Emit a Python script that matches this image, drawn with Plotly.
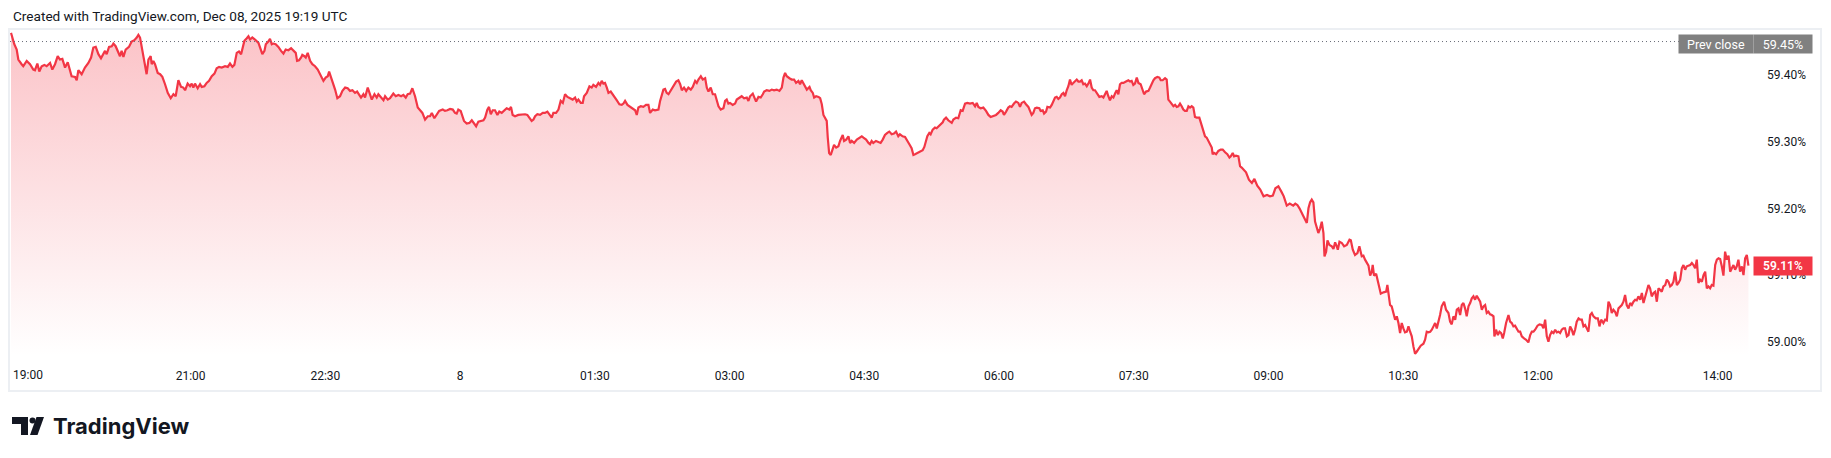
import pandas as pd
import plotly.graph_objects as go

# ---------------- data ----------------
START = "2025-12-07 19:00"          # first bar of the session
PREV_CLOSE = 59.45                  # "Prev close" level, %
LAST_PCT = 59.114                   # last traded level, %

# minutes after START / level in %
minutes_a = [0.0, 2.2, 3.8, 4.9, 7.1, 8.2, 10.5, 12.7, 14.9, 16.0,
             17.6, 18.9, 20.5, 22.3, 23.8, 26.1, 27.6, 29.4, 31.2, 32.7,
             34.3, 36.1, 37.9, 39.4, 40.5, 42.8, 43.9, 45.0, 47.2, 49.4,
             51.7, 53.5, 55.0, 56.6, 58.4, 60.1, 61.7, 62.8, 63.9, 65.5,
             67.3, 68.4, 69.9, 71.7, 72.8, 73.9, 75.1, 76.6, 78.8, 80.6,
             82.4, 84.0, 85.1, 86.2, 87.3, 89.1, 90.6, 91.8, 93.3, 94.0,
             95.1, 96.2, 98.0, 99.6, 101.1, 102.9, 104.7, 106.7, 108.5, 110.0,
             111.8, 113.6, 115.1, 116.3, 118.0, 119.6, 120.7, 121.8, 122.9, 124.7,
             126.3, 127.4, 129.2, 130.7, 132.3, 134.1, 135.9, 137.4, 139.0, 140.8,
             143.0, 144.8, 146.3, 147.9, 149.2, 150.8, 152.3, 153.7, 154.6, 155.9,
             157.5, 158.6, 159.7, 161.2, 163.0, 165.3, 166.4, 167.9, 169.3, 170.2,
             171.9, 173.0, 174.2, 175.3, 176.8, 178.6, 180.4, 182.0, 183.5, 185.3,
             187.1, 188.6, 190.2, 191.1, 192.4, 193.8, 194.6, 196.0, 196.9, 198.2,
             199.8, 201.3, 203.1, 204.9, 206.5, 208.7, 210.2, 211.6, 212.5, 213.8,
             215.4, 216.5, 218.0, 219.8, 221.4, 223.2, 224.9, 226.5, 228.1, 229.8,
             231.2, 232.5, 233.8, 235.4, 236.5, 238.3, 239.9, 241.0, 242.8, 244.3,
             245.4, 247.2, 248.8, 249.9, 251.7, 253.2, 254.3, 255.4, 257.0, 258.8,
             260.6, 262.1, 263.7, 265.0, 266.6, 268.1, 269.9, 271.7, 273.3, 274.8,
             276.6, 278.4, 279.9, 281.1, 282.8, 284.4, 286.0]
pct_a = [59.463, 59.446, 59.438, 59.423, 59.416, 59.413, 59.421, 59.416, 59.408, 59.407,
         59.417, 59.405, 59.413, 59.415, 59.413, 59.418, 59.408, 59.416, 59.428, 59.423,
         59.424, 59.411, 59.419, 59.408, 59.398, 59.397, 59.392, 59.407, 59.401, 59.411,
         59.418, 59.426, 59.441, 59.442, 59.431, 59.425, 59.431, 59.436, 59.431, 59.442,
         59.443, 59.447, 59.443, 59.433, 59.428, 59.436, 59.427, 59.438, 59.442, 59.450,
         59.452, 59.456, 59.460, 59.456, 59.443, 59.421, 59.401, 59.423, 59.428, 59.416,
         59.421, 59.416, 59.403, 59.401, 59.397, 59.386, 59.373, 59.365, 59.371, 59.368,
         59.392, 59.382, 59.381, 59.377, 59.387, 59.383, 59.387, 59.381, 59.387, 59.380,
         59.386, 59.382, 59.383, 59.388, 59.391, 59.398, 59.402, 59.410, 59.412, 59.411,
         59.413, 59.412, 59.417, 59.412, 59.415, 59.433, 59.435, 59.431, 59.438, 59.451,
         59.455, 59.458, 59.453, 59.456, 59.453, 59.448, 59.441, 59.431, 59.436, 59.446,
         59.450, 59.454, 59.446, 59.447, 59.446, 59.442, 59.436, 59.432, 59.438, 59.437,
         59.440, 59.436, 59.433, 59.421, 59.422, 59.426, 59.430, 59.428, 59.426, 59.433,
         59.421, 59.416, 59.413, 59.408, 59.401, 59.391, 59.396, 59.398, 59.405, 59.397,
         59.386, 59.378, 59.365, 59.368, 59.376, 59.381, 59.380, 59.376, 59.377, 59.373,
         59.375, 59.371, 59.366, 59.371, 59.366, 59.381, 59.371, 59.363, 59.371, 59.366,
         59.371, 59.366, 59.362, 59.368, 59.363, 59.365, 59.368, 59.372, 59.368, 59.370,
         59.368, 59.370, 59.366, 59.371, 59.372, 59.380, 59.368, 59.351, 59.347, 59.343,
         59.333, 59.338, 59.338, 59.343, 59.335, 59.340, 59.346]

minutes_b = [288.4, 289.9, 291.5, 293.3, 295.1, 296.6, 297.7, 298.8, 300.4, 301.7,
             302.6, 304.4, 306.2, 307.8, 309.3, 310.7, 312.2, 313.8, 315.6, 316.7,
             318.2, 319.3, 320.5, 321.8, 323.3, 324.9, 326.2, 327.8, 329.4, 331.1,
             332.9, 334.0, 335.1, 336.7, 338.9, 341.2, 343.4, 344.9, 346.3, 347.8,
             349.0, 350.1, 351.6, 353.4, 355.2, 356.7, 358.3, 359.6, 361.2, 362.3,
             364.1, 365.7, 367.2, 368.6, 370.1, 371.7, 373.5, 375.2, 376.8, 377.9,
             379.0, 380.6, 381.9, 382.8, 384.6, 386.4, 387.9, 389.0, 390.8, 392.4,
             393.5, 394.6, 395.7, 396.8, 398.0, 399.1, 400.6, 402.0, 403.5, 404.6,
             406.4, 408.0, 409.1, 410.2, 411.8, 413.5, 415.3, 416.9, 418.0, 419.1,
             420.7, 422.4, 424.2, 425.8, 426.9, 428.7, 430.2, 432.5, 433.6, 434.7,
             435.8, 436.9, 438.0, 439.2, 440.7, 442.5, 444.3, 445.8, 447.0, 448.1,
             449.6, 451.0, 452.5, 454.1, 455.4, 457.0, 458.1, 459.2, 460.8, 462.1,
             463.7, 464.8, 465.9, 467.4, 468.8, 470.3, 471.4, 472.6, 474.1, 475.9,
             477.0, 478.1, 479.2, 480.3, 482.1, 483.7, 484.8, 486.6, 488.1, 489.7,
             491.5, 492.6, 493.7, 495.5, 496.4, 497.7, 499.3, 500.8, 502.2, 503.1,
             504.8, 506.6, 508.2, 509.7, 511.5, 513.3, 514.9, 516.0, 517.1, 518.2,
             520.0, 521.5, 523.1, 524.4, 526.0, 527.1, 528.2, 529.3, 530.5, 531.6,
             533.4, 534.2, 535.6, 536.5, 537.8, 539.4, 540.5, 541.6, 542.7, 543.8,
             544.9, 545.6, 546.5, 547.6, 549.0, 549.8, 551.2, 552.7, 553.8, 555.0,
             555.6, 556.5, 557.9, 559.4, 560.5, 561.6, 563.2, 565.0, 566.8, 568.3,
             569.4, 571.2, 572.8]
pct_b = [59.348, 59.346, 59.347, 59.349, 59.348, 59.343, 59.342, 59.348, 59.346, 59.338,
         59.331, 59.327, 59.328, 59.332, 59.328, 59.323, 59.330, 59.331, 59.332, 59.336,
         59.348, 59.352, 59.341, 59.347, 59.347, 59.340, 59.345, 59.343, 59.347, 59.350,
         59.348, 59.352, 59.340, 59.338, 59.340, 59.341, 59.341, 59.340, 59.336, 59.331,
         59.333, 59.338, 59.341, 59.340, 59.343, 59.343, 59.345, 59.341, 59.336, 59.343,
         59.343, 59.348, 59.361, 59.358, 59.371, 59.367, 59.365, 59.363, 59.366, 59.360,
         59.363, 59.358, 59.358, 59.368, 59.373, 59.383, 59.381, 59.385, 59.382, 59.388,
         59.385, 59.391, 59.387, 59.388, 59.381, 59.373, 59.375, 59.371, 59.366, 59.362,
         59.356, 59.355, 59.357, 59.361, 59.355, 59.352, 59.350, 59.347, 59.340, 59.351,
         59.353, 59.352, 59.355, 59.355, 59.343, 59.348, 59.347, 59.348, 59.361, 59.371,
         59.378, 59.379, 59.373, 59.371, 59.376, 59.383, 59.390, 59.392, 59.386, 59.377,
         59.381, 59.376, 59.381, 59.378, 59.382, 59.391, 59.388, 59.393, 59.398, 59.393,
         59.395, 59.381, 59.375, 59.381, 59.371, 59.371, 59.363, 59.353, 59.348, 59.350,
         59.361, 59.363, 59.357, 59.358, 59.355, 59.357, 59.363, 59.366, 59.368, 59.365,
         59.366, 59.361, 59.368, 59.372, 59.366, 59.360, 59.367, 59.366, 59.371, 59.375,
         59.377, 59.376, 59.378, 59.377, 59.378, 59.376, 59.381, 59.396, 59.403, 59.398,
         59.395, 59.393, 59.393, 59.388, 59.391, 59.386, 59.392, 59.387, 59.382, 59.378,
         59.382, 59.377, 59.373, 59.366, 59.368, 59.367, 59.365, 59.356, 59.340, 59.336,
         59.331, 59.306, 59.283, 59.280, 59.288, 59.295, 59.291, 59.293, 59.301, 59.308,
         59.310, 59.301, 59.303, 59.308, 59.298, 59.301, 59.298, 59.303, 59.306, 59.308,
         59.306, 59.303, 59.298]

minutes_c = [573.8, 574.9, 576.0, 577.8, 579.4, 580.9, 582.3, 583.8, 585.4, 586.7,
             588.3, 589.8, 591.2, 592.7, 593.8, 595.6, 597.2, 598.7, 600.1, 601.6,
             602.8, 603.9, 605.4, 607.2, 609.0, 610.1, 611.2, 612.1, 613.4, 614.3,
             615.7, 617.2, 618.3, 619.5, 621.0, 622.4, 623.2, 624.6, 626.1, 627.2,
             628.4, 629.5, 631.3, 632.8, 634.4, 635.7, 637.3, 638.8, 640.6, 642.4,
             644.0, 645.1, 646.2, 647.7, 649.5, 651.3, 652.9, 654.4, 656.2, 658.0,
             659.5, 661.1, 662.4, 663.3, 664.7, 666.2, 667.3, 668.4, 670.0, 671.3,
             672.9, 674.0, 675.1, 676.7, 678.0, 679.6, 680.7, 681.8, 682.9, 684.0,
             685.2, 686.9, 687.8, 689.2, 690.1, 691.4, 692.3, 694.1, 695.2, 696.3,
             697.4, 698.5, 699.6, 700.7, 701.9, 703.0, 704.1, 705.2, 706.3, 707.4,
             708.5, 709.6, 710.8, 711.9, 713.0, 714.1, 715.2, 716.3, 717.4, 718.6,
             719.7, 720.8, 721.9, 723.0, 724.1, 725.2, 727.0, 728.6, 729.7, 730.8,
             731.9, 733.0, 734.1, 735.3, 736.4, 737.5, 738.6, 739.7, 740.8, 741.9,
             743.1, 744.8, 746.4, 747.5, 748.6, 749.7, 750.8, 752.0, 753.1, 754.6,
             756.0, 756.9, 758.2, 759.8, 760.9, 762.0, 763.1, 764.2, 765.8, 767.1,
             768.0, 769.3, 770.9, 772.0, 773.1, 774.2, 775.3, 776.5, 777.6, 778.7,
             779.8, 780.9, 782.0, 783.1, 784.2, 785.4, 786.5, 787.6, 788.7, 789.8,
             790.9, 792.0, 793.8, 795.4, 796.5, 797.6, 798.7, 799.8, 801.0, 802.1,
             802.7, 803.6, 805.0, 806.5, 808.1, 809.4, 811.0, 812.5, 813.9, 814.8,
             816.1, 817.0, 818.3, 819.9, 821.0, 822.1]
pct_c = [59.296, 59.301, 59.298, 59.301, 59.300, 59.298, 59.303, 59.310, 59.313, 59.315,
         59.311, 59.312, 59.315, 59.308, 59.311, 59.308, 59.307, 59.302, 59.296, 59.290,
         59.280, 59.281, 59.283, 59.285, 59.287, 59.292, 59.301, 59.308, 59.313, 59.311,
         59.318, 59.321, 59.320, 59.323, 59.326, 59.329, 59.333, 59.336, 59.332, 59.330,
         59.328, 59.333, 59.336, 59.335, 59.347, 59.346, 59.357, 59.358, 59.357, 59.358,
         59.353, 59.358, 59.352, 59.350, 59.351, 59.346, 59.340, 59.337, 59.338, 59.340,
         59.343, 59.347, 59.345, 59.340, 59.345, 59.351, 59.353, 59.352, 59.357, 59.360,
         59.358, 59.352, 59.358, 59.360, 59.356, 59.352, 59.346, 59.340, 59.343, 59.350,
         59.351, 59.350, 59.346, 59.347, 59.342, 59.345, 59.352, 59.351, 59.355, 59.360,
         59.366, 59.367, 59.364, 59.366, 59.371, 59.373, 59.368, 59.377, 59.383, 59.393,
         59.385, 59.388, 59.391, 59.393, 59.390, 59.390, 59.392, 59.386, 59.387, 59.383,
         59.387, 59.393, 59.381, 59.377, 59.377, 59.373, 59.367, 59.368, 59.366, 59.371,
         59.376, 59.368, 59.362, 59.368, 59.366, 59.372, 59.377, 59.371, 59.386, 59.388,
         59.388, 59.390, 59.392, 59.390, 59.391, 59.385, 59.387, 59.396, 59.388, 59.386,
         59.376, 59.371, 59.375, 59.376, 59.381, 59.388, 59.392, 59.395, 59.397, 59.396,
         59.392, 59.392, 59.395, 59.393, 59.363, 59.360, 59.357, 59.353, 59.355, 59.352,
         59.353, 59.357, 59.353, 59.348, 59.346, 59.346, 59.353, 59.351, 59.353, 59.351,
         59.337, 59.336, 59.336, 59.323, 59.313, 59.308, 59.306, 59.301, 59.296, 59.291,
         59.281, 59.283, 59.281, 59.286, 59.288, 59.288, 59.284, 59.281, 59.276, 59.278,
         59.283, 59.278, 59.279, 59.278, 59.263, 59.261]

minutes_d = [825.0, 826.9, 828.9, 830.6, 832.5, 834.5, 836.7, 839.0, 841.0, 842.9,
             844.6, 846.6, 848.6, 850.2, 852.2, 854.2, 856.5, 857.9, 859.3, 860.7]
pct_d = [59.254, 59.243, 59.238, 59.244, 59.234, 59.228, 59.218, 59.220, 59.218, 59.219,
         59.230, 59.233, 59.225, 59.218, 59.204, 59.207, 59.204, 59.207, 59.205, 59.200]

minutes_e = [862.9, 864.4, 865.6, 866.7, 867.8, 868.9, 870.0, 871.1, 872.2, 873.3,
             874.5, 875.6, 876.7, 877.4, 878.5, 879.4, 880.7, 882.3, 883.4, 884.5,
             885.6, 886.3, 887.4, 889.0, 890.5, 892.3, 894.1, 895.0, 896.3, 897.8,
             899.4, 900.7, 902.3, 903.4, 904.5, 905.6, 906.8, 907.9, 909.0, 909.6,
             910.5, 911.9, 913.4, 915.0, 916.8, 918.6, 919.4, 920.1, 921.2, 922.3,
             923.5, 924.6, 925.7, 926.8, 927.9, 929.0, 930.1, 931.2, 932.4, 933.5,
             934.6, 935.7, 936.8, 937.9, 939.0, 940.2, 941.7, 943.5, 944.6, 945.7,
             946.8, 948.0, 949.1, 950.2, 951.3, 952.4, 953.5, 954.6, 955.7, 957.3,
             958.6, 960.2, 961.3, 962.4, 963.5, 964.7, 965.8, 966.9, 968.0, 969.1,
             970.2, 971.3, 972.4, 973.6, 974.7, 975.8, 976.9, 978.0, 979.1, 980.2,
             981.4, 982.5, 983.6, 984.7, 985.8, 986.9, 988.0, 989.2, 990.3, 990.9,
             992.0, 993.2, 994.3, 995.4, 996.5, 997.4, 998.7, 1000.3, 1001.4, 1002.5,
             1003.6, 1004.7, 1005.9, 1007.0, 1008.1, 1009.2, 1010.7, 1012.1, 1013.6, 1014.8,
             1015.9, 1017.0, 1018.1, 1019.7, 1021.0, 1022.6, 1023.7, 1024.8, 1025.9, 1027.0,
             1028.1, 1029.2, 1030.4, 1031.5, 1032.6, 1033.7, 1034.8, 1035.9, 1037.0, 1038.1,
             1039.3, 1040.4, 1041.5, 1042.6, 1043.7, 1044.8, 1045.9, 1047.1, 1048.2, 1049.3,
             1050.4, 1051.5, 1052.6, 1053.7, 1054.9, 1056.0, 1057.1, 1058.6, 1060.0, 1061.1,
             1062.2, 1063.7, 1064.9, 1066.0, 1067.1, 1068.2, 1069.3, 1070.4, 1071.5, 1072.7,
             1073.8, 1074.9, 1076.0, 1077.1, 1078.2, 1079.3, 1080.5, 1081.6, 1082.7, 1083.8,
             1084.9, 1086.0, 1087.1, 1088.3, 1089.4, 1090.5, 1091.6, 1092.7, 1093.8, 1094.9,
             1096.0, 1097.2, 1098.3, 1099.4, 1100.5, 1101.6, 1102.7, 1103.8, 1105.0, 1106.1,
             1107.2, 1108.3, 1109.4, 1110.5, 1111.6, 1112.8, 1113.9, 1115.0, 1116.1, 1117.2,
             1118.3, 1119.4, 1120.6, 1121.7, 1122.8, 1123.9, 1125.0, 1126.1, 1127.2, 1128.3,
             1129.5, 1130.6, 1131.7, 1132.8, 1133.9, 1135.0, 1136.1, 1137.2, 1138.4, 1139.5,
             1140.6, 1141.7, 1142.8, 1143.9, 1145.0, 1146.1, 1147.3, 1148.4, 1149.5, 1150.6,
             1151.7, 1152.8, 1153.9, 1155.0, 1156.2, 1157.3, 1158.4, 1159.5, 1160.6]
pct_e = [59.190, 59.183, 59.178, 59.200, 59.209, 59.213, 59.209, 59.180, 59.173, 59.163,
         59.170, 59.180, 59.163, 59.128, 59.135, 59.152, 59.145, 59.143, 59.139, 59.149,
         59.143, 59.138, 59.150, 59.148, 59.143, 59.145, 59.153, 59.152, 59.138, 59.130,
         59.133, 59.143, 59.128, 59.129, 59.123, 59.118, 59.114, 59.099, 59.105, 59.115,
         59.099, 59.102, 59.088, 59.072, 59.074, 59.075, 59.085, 59.073, 59.055, 59.053,
         59.040, 59.033, 59.038, 59.028, 59.013, 59.028, 59.020, 59.014, 59.015, 59.023,
         59.015, 59.008, 58.993, 58.982, 58.985, 58.990, 58.994, 58.997, 59.003, 59.015,
         59.014, 59.015, 59.018, 59.023, 59.028, 59.020, 59.029, 59.040, 59.053, 59.060,
         59.048, 59.043, 59.030, 59.026, 59.038, 59.033, 59.048, 59.050, 59.040, 59.055,
         59.058, 59.050, 59.038, 59.053, 59.058, 59.065, 59.068, 59.063, 59.069, 59.065,
         59.060, 59.048, 59.053, 59.055, 59.043, 59.045, 59.041, 59.040, 59.038, 59.008,
         59.018, 59.010, 59.015, 59.013, 59.005, 59.013, 59.028, 59.040, 59.030, 59.028,
         59.023, 59.024, 59.020, 59.015, 59.015, 59.008, 59.005, 59.003, 58.999, 59.010,
         59.015, 59.015, 59.018, 59.024, 59.026, 59.025, 59.020, 59.033, 59.008, 59.000,
         59.010, 59.015, 59.013, 59.018, 59.014, 59.015, 59.013, 59.018, 59.020, 59.020,
         59.008, 59.010, 59.023, 59.018, 59.010, 59.018, 59.030, 59.035, 59.033, 59.033,
         59.023, 59.025, 59.020, 59.015, 59.040, 59.043, 59.038, 59.035, 59.035, 59.023,
         59.033, 59.028, 59.033, 59.032, 59.060, 59.055, 59.043, 59.048, 59.045, 59.038,
         59.050, 59.053, 59.055, 59.060, 59.070, 59.055, 59.050, 59.058, 59.055, 59.060,
         59.063, 59.062, 59.068, 59.063, 59.073, 59.058, 59.068, 59.074, 59.085, 59.080,
         59.068, 59.073, 59.075, 59.060, 59.080, 59.078, 59.075, 59.083, 59.085, 59.093,
         59.090, 59.083, 59.085, 59.090, 59.105, 59.085, 59.088, 59.093, 59.110, 59.115,
         59.108, 59.113, 59.114, 59.115, 59.118, 59.115, 59.110, 59.123, 59.088, 59.093,
         59.090, 59.100, 59.105, 59.080, 59.083, 59.080, 59.085, 59.084, 59.115, 59.123,
         59.125, 59.124, 59.113, 59.099, 59.135, 59.123, 59.129, 59.105, 59.110, 59.115,
         59.108, 59.113, 59.123, 59.105, 59.113, 59.100, 59.125, 59.130, LAST_PCT]

# axis labels
x_tick_times = ["2025-12-07 21:00", "2025-12-07 22:30", "2025-12-08 00:00",
                "2025-12-08 01:30", "2025-12-08 03:00", "2025-12-08 04:30",
                "2025-12-08 06:00", "2025-12-08 07:30", "2025-12-08 09:00",
                "2025-12-08 10:30", "2025-12-08 12:00", "2025-12-08 14:00"]
x_tick_text = ["21:00", "22:30", "8", "01:30", "03:00", "04:30",
               "06:00", "07:30", "09:00", "10:30", "12:00", "14:00"]
first_tick_time = "2025-12-07 19:00"
first_tick_text = "19:00"
y_ticks = [59.00, 59.10, 59.20, 59.30, 59.40]
y_tick_text = ["59.00%", "59.10%", "59.20%", "59.30%", "59.40%"]
x_range = ["2025-12-07 18:59:20", "2025-12-08 15:08:24"]
y_range = [58.9786, 59.4673]

# ---------------- build ----------------
pairs = [(minutes_a, pct_a), (minutes_b, pct_b), (minutes_c, pct_c),
         (minutes_d, pct_d), (minutes_e, pct_e)]
minutes, pct = [], []
for m, p in pairs:
    assert len(m) == len(p), (len(m), len(p))
    minutes += m
    pct += p
times = pd.Timestamp(START) + pd.to_timedelta(minutes, unit="m")

W, H = 1831, 458
def px(x):
    return x / W
def py(y):
    return 1 - y / H

RED = "#F23645"
TEXT = "#131722"
FONT = "Roboto"

fig = go.Figure()
fig.add_trace(go.Scatter(
    x=times, y=pct, mode="lines",
    line=dict(color=RED, width=2.2),
    fill="tozeroy",
    fillgradient=dict(type="vertical",
                      colorscale=[[0, "rgba(242,54,69,0.0)"], [1, "rgba(242,54,69,0.30)"]],
                      start=y_range[0], stop=y_range[1]),
    hoverinfo="skip", showlegend=False))

shapes = [
    # pane frame
    dict(type="rect", xref="paper", yref="paper", x0=px(9), x1=px(1821), y0=py(391), y1=py(29),
         line=dict(color="#eceff3", width=2), fillcolor="rgba(0,0,0,0)", layer="above"),
    # previous close dotted line
    dict(type="line", xref="paper", yref="y", x0=px(10), x1=px(1680), y0=PREV_CLOSE, y1=PREV_CLOSE,
         line=dict(color="#6a6d78", width=1, dash="1px,3px")),
    # TradingView logo
    dict(type="rect", xref="paper", yref="paper", x0=px(12), x1=px(28), y0=py(424), y1=py(417),
         fillcolor=TEXT, line=dict(width=0)),
    dict(type="rect", xref="paper", yref="paper", x0=px(21), x1=px(28), y0=py(435), y1=py(417),
         fillcolor=TEXT, line=dict(width=0)),
    dict(type="circle", xref="paper", yref="paper", x0=px(29.5), x1=px(35.5), y0=py(423.5), y1=py(417.5),
         fillcolor=TEXT, line=dict(width=0)),
    dict(type="path", xref="paper", yref="paper",
         path=f"M {px(36.5)} {py(417)} L {px(44)} {py(417)} L {px(37.5)} {py(435)} L {px(30)} {py(435)} Z",
         fillcolor=TEXT, line=dict(width=0)),
]

annotations = [
    dict(text="Created with TradingView.com, Dec 08, 2025 19:19 UTC", xref="paper", yref="paper",
         x=px(11), y=py(16), xanchor="left", yanchor="middle", showarrow=False,
         font=dict(family=FONT, size=13.6, color=TEXT)),
    dict(text="TradingView", xref="paper", yref="paper", x=px(51), y=py(426),
         xanchor="left", yanchor="middle", showarrow=False,
         font=dict(family="Inter", size=22, color=TEXT, weight=700)),
    dict(text=first_tick_text, xref="x", yref="paper", x=first_tick_time, y=py(375),
         xanchor="left", yanchor="middle", showarrow=False,
         font=dict(family=FONT, size=12, color=TEXT)),
    dict(text="Prev close", xref="paper", yref="y", x=px(1754), y=PREV_CLOSE, yshift=-2,
         xanchor="right", yanchor="middle", showarrow=False, bgcolor="#808080",
         width=70, height=14, borderpad=2, font=dict(family=FONT, size=12.5, color="white")),
    dict(text=f"{PREV_CLOSE:.2f}%", xref="paper", yref="y", x=px(1813), y=PREV_CLOSE, yshift=-2,
         xanchor="right", yanchor="middle", showarrow=False, bgcolor="#808080",
         width=54, height=14, borderpad=2, font=dict(family=FONT, size=12.5, color="white")),
    dict(text=f"{pct[-1]:.2f}%", xref="paper", yref="y", x=px(1813), y=pct[-1],
         xanchor="right", yanchor="middle", showarrow=False, bgcolor=RED,
         width=54, height=14, borderpad=2, font=dict(family=FONT, size=12, color="white", weight=600)),
]

fig.update_layout(
    width=W, height=H, margin=dict(l=0, r=0, t=0, b=0),
    paper_bgcolor="white", plot_bgcolor="white", showlegend=False,
    xaxis=dict(type="date", range=x_range, domain=[px(10), px(1820)],
               tickvals=x_tick_times, ticktext=x_tick_text, ticks="",
               showgrid=False, zeroline=False, showline=False,
               ticklabelstandoff=11, tickfont=dict(family=FONT, size=12, color=TEXT)),
    yaxis=dict(range=y_range, domain=[py(356), py(30)], side="right",
               ticklabelposition="inside", tickvals=y_ticks, ticktext=y_tick_text,
               ticks="", showgrid=False, zeroline=False, showline=False,
               ticklabelstandoff=11, tickfont=dict(family=FONT, size=12, color=TEXT)),
    shapes=shapes, annotations=annotations,
)

fig.write_html("out.html", config={"displayModeBar": False},
               post_script="document.body.style.margin='0';document.body.style.overflow='hidden';")
